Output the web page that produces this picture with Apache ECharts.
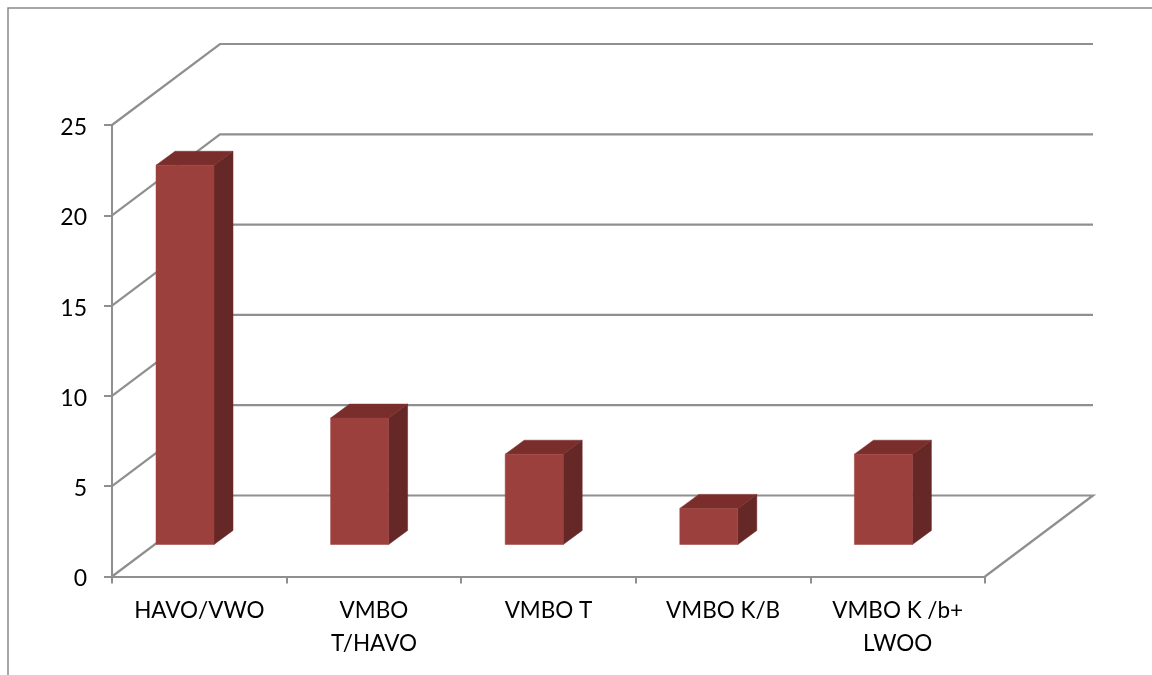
<!DOCTYPE html>
<html>
<head>
<meta charset="utf-8">
<style>html,body{margin:0;padding:0;background:#fff}#c{width:1152px;height:675px}</style>
<script src="https://cdn.jsdelivr.net/npm/echarts@6/dist/echarts.min.js"></script>
</head>
<body>
<div id="c"></div>
<script>
const categories = ['HAVO/VWO', 'VMBO\nT/HAVO', 'VMBO T', 'VMBO K/B', 'VMBO K /b+\nLWOO'];
const values = [21, 7, 5, 2, 5];
const yTicks = [0, 5, 10, 15, 20, 25];
const GREY = '#8f8f8f';
const WALL_DX = 108, WALL_DY = 81;
const BAR_INSET = 44, BAR_LIFT = 32, BAR_W = 58, SIDE_DX = 19, SIDE_DY = 14;

const chart = echarts.init(document.getElementById('c'), null, {renderer: 'canvas'});
chart.setOption({
  animation: false,
  backgroundColor: '#fff',
  grid: {left: 112, top: 125, width: 873, height: 451.5},
  xAxis: {
    type: 'category', data: categories,
    axisLine: {lineStyle: {color: GREY, width: 2}},
    axisTick: {show: true, alignWithLabel: false, length: 7, lineStyle: {color: GREY, width: 2}},
    axisLabel: {color: '#000', fontFamily: 'Lato', fontSize: 22.5, lineHeight: 33, margin: 18, interval: 0}
  },
  yAxis: {
    type: 'value', min: 0, max: 25, interval: 5,
    splitLine: {show: false},
    axisLine: {show: true, lineStyle: {color: GREY, width: 2}},
    axisTick: {show: true, length: 8, lineStyle: {color: GREY, width: 2}},
    axisLabel: {color: '#000', fontFamily: 'Lato', fontSize: 23, margin: 25, verticalAlign: 'top', lineHeight: 5}
  },
  graphic: [{
    type: 'polyline', silent: true,
    shape: {points: [[8, 675], [8, 8], [1152, 8]]},
    style: {stroke: '#8a8a8a', lineWidth: 1.5, fill: null}
  }],
  series: [
    {
      type: 'custom', silent: true, z: 1,
      encode: {x: 0, y: 1},
      data: yTicks.map(v => [0, v]),
      renderItem(params, api) {
        const r = params.coordSys;
        const y = api.coord([0, api.value(1)])[1];
        const pts = [[r.x, y], [r.x + WALL_DX, y - WALL_DY], [r.x + r.width + WALL_DX, y - WALL_DY]];
        if (api.value(1) === 0) pts.push([r.x + r.width, y]);
        return {type: 'polyline', shape: {points: pts}, style: {stroke: GREY, lineWidth: 2.2, fill: null}};
      }
    },
    {
      type: 'custom', silent: true, z: 3,
      encode: {x: 0, y: 1},
      data: values.map((v, i) => [i, v]),
      renderItem(params, api) {
        const i = api.value(0);
        const band = api.size([1, 0])[0];
        const left = api.coord([i, 0])[0] - band / 2 + BAR_INSET;
        const right = left + BAR_W;
        const bottom = api.coord([i, 0])[1] - BAR_LIFT;
        const top = bottom - api.size([0, api.value(1)])[1];
        const poly = (points, fill) => ({type: 'polygon', shape: {points}, style: {fill, stroke: fill, lineWidth: 0.5}});
        return {type: 'group', children: [
          poly([[right, top], [right + SIDE_DX, top - SIDE_DY], [right + SIDE_DX, bottom - SIDE_DY], [right, bottom]], '#652826'),
          poly([[left, top], [left + SIDE_DX, top - SIDE_DY], [right + SIDE_DX, top - SIDE_DY], [right, top]], '#7a2e2c'),
          poly([[left, top], [right, top], [right, bottom], [left, bottom]], '#9c403e')
        ]};
      }
    }
  ]
});
</script>
</body>
</html>
